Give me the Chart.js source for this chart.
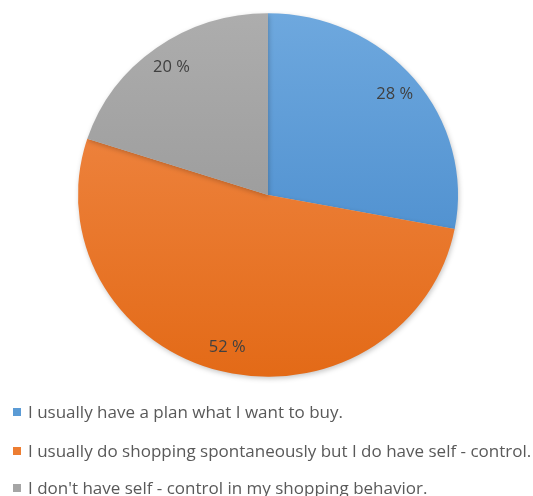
<!DOCTYPE html>
<html>
<head>
<meta charset="utf-8">
<script src="https://cdn.jsdelivr.net/npm/chart.js@4"></script>
<style>
html,body{margin:0;padding:0;background:#fff;}
#wrap{width:533px;height:496px;position:relative;}
</style>
</head>
<body>
<div id="wrap"><canvas id="c" width="533" height="496"></canvas></div>
<script>
const categories = [
  "I usually have a plan what I want to buy.",
  "I usually do shopping spontaneously but I do have self - control.",
  "I don't have self - control in my shopping behavior."
];
const values = [28, 52, 20];
const valueLabels = ["28 %", "52 %", "20 %"];
const topColors = ["#6ea8de", "#f28d4e", "#adadad"];
const bottomColors = ["#3f84c8", "#e36a17", "#8f8f8f"];
const legendColors = ["#5b9bd5", "#ed7d31", "#a5a5a5"];

const FONT = "'Open Sans', 'DejaVu Sans', sans-serif";
const Y_SQUASH = 0.957;

const squashPlugin = {
  id: 'pieSquash',
  beforeDatasetsDraw(chart) {
    const ctx = chart.ctx;
    const a = chart.chartArea;
    const cy = (a.top + a.bottom) / 2;
    ctx.save();
    ctx.translate(0, cy);
    ctx.scale(1, Y_SQUASH);
    ctx.translate(0, -cy);
    ctx.shadowColor = "rgba(0,0,0,0.22)";
    ctx.shadowBlur = 5;
    ctx.shadowOffsetX = 1;
    ctx.shadowOffsetY = 2;
  },
  afterDatasetsDraw(chart) {
    chart.ctx.restore();
  }
};

const labelPlugin = {
  id: 'sliceLabels',
  afterDatasetsDraw(chart) {
    const ctx = chart.ctx;
    const meta = chart.getDatasetMeta(0);
    ctx.save();
    ctx.font = "16.5px " + FONT;
    ctx.fillStyle = "#404040";
    ctx.textAlign = "center";
    ctx.textBaseline = "middle";
    meta.data.forEach((arc, i) => {
      const p = arc.getProps(['x','y','startAngle','endAngle','outerRadius'], true);
      const mid = (p.startAngle + p.endAngle) / 2;
      const r = p.outerRadius * 0.865;
      ctx.fillText(valueLabels[i], p.x + Math.cos(mid) * r, p.y + Math.sin(mid) * r * Y_SQUASH);
    });
    ctx.restore();
  }
};

const legendPlugin = {
  id: 'customLegend',
  afterDraw(chart) {
    const ctx = chart.ctx;
    ctx.save();
    ctx.font = "17px " + FONT;
    ctx.textBaseline = "alphabetic";
    ctx.textAlign = "left";
    const baselines = [418, 457, 494];
    categories.forEach((label, i) => {
      const y = baselines[i];
      ctx.fillStyle = legendColors[i];
      ctx.fillRect(13, y - 10, 8, 8);
      ctx.fillStyle = "#595959";
      ctx.fillText(label, 28, y);
    });
    ctx.restore();
  }
};

function sliceFill(context) {
  const i = context.dataIndex;
  const chart = context.chart;
  const area = chart.chartArea;
  if (!area || i === undefined) return topColors[i || 0];
  const g = chart.ctx.createLinearGradient(0, area.top, 0, area.bottom);
  g.addColorStop(0, topColors[i]);
  g.addColorStop(1, bottomColors[i]);
  return g;
}

new Chart(document.getElementById('c'), {
  type: 'pie',
  data: {
    labels: categories,
    datasets: [{
      data: values,
      backgroundColor: sliceFill,
      borderWidth: 0
    }]
  },
  options: {
    responsive: false,
    animation: false,
    layout: { padding: { top: 5, bottom: 111, left: 78, right: 75 } },
    plugins: {
      legend: { display: false },
      tooltip: { enabled: false }
    }
  },
  plugins: [squashPlugin, labelPlugin, legendPlugin]
});
</script>
</body>
</html>
